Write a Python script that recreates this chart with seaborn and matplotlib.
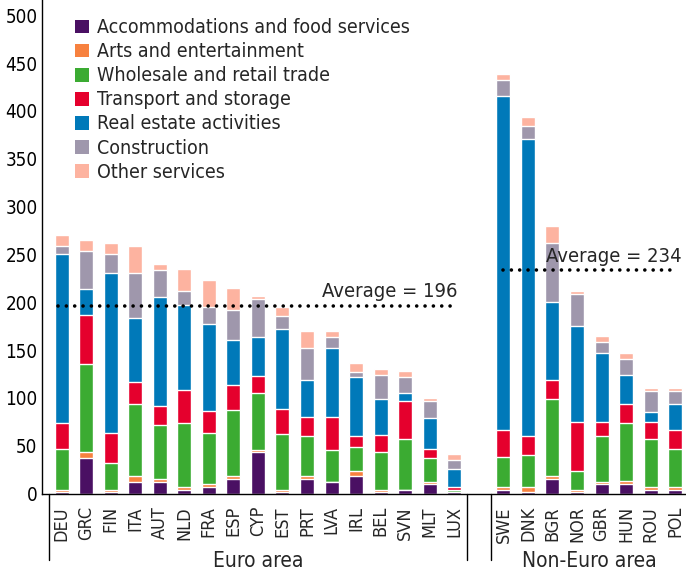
import numpy as np
import pandas as pd
import seaborn as sns
import matplotlib.pyplot as plt
from matplotlib.patches import Patch
import matplotlib.transforms as mtransforms

# data (segment heights, bottom to top)
euro = ["DEU", "GRC", "FIN", "ITA", "AUT", "NLD", "FRA", "ESP", "CYP",
        "EST", "PRT", "LVA", "IRL", "BEL", "SVN", "MLT", "LUX"]
non_euro = ["SWE", "DNK", "BGR", "NOR", "GBR", "HUN", "ROU", "POL"]

sectors = ["Accommodations and food services", "Arts and entertainment",
           "Wholesale and retail trade", "Transport and storage",
           "Real estate activities", "Construction", "Other services"]
colors = ["#4a1063", "#f7813f", "#3bab32", "#e5002d", "#0079b9", "#9f97ac", "#fdb3a0"]

accom = [1.5, 37, 1.4, 11.9, 11.9, 3.5, 6.6, 15, 43.3, 1.4, 15, 11.9, 18.1, 1.4, 3.5, 9.8, 1.4,
         3.5, 1.4, 15, 1.4, 9.8, 9.8, 3.5, 3.5]
arts = [2, 6.3, 2.1, 6.2, 3.1, 3.1, 3.2, 3.1, 2.1, 2.1, 3.1, 0, 5.3, 2.1, 0, 2.1, 0,
        3.1, 5.2, 3.1, 2.1, 2.1, 3.1, 3.1, 3.1]
wholesale = [43, 92.1, 28.3, 75.4, 56.5, 67, 53.4, 69.1, 59.6, 58.6, 41.9, 33.5, 25.1, 39.8, 53.4, 25.1, 2.1,
             31.4, 33.5, 80.6, 19.9, 48.1, 60.7, 50.3, 39.8]
transport = [27, 51.3, 31.4, 23.4, 20.3, 34.9, 23, 26.2, 17.8, 26.2, 19.9, 34.5, 11.5, 17.8, 39.7, 9.4, 3.1,
             28.3, 19.9, 19.9, 51.3, 14.7, 19.9, 17.8, 19.9]
real_estate = [177, 27.2, 167.4, 66.6, 113.7, 88.6, 91.1, 47.1, 40.8, 83.7, 38.7, 72.2, 61.8, 37.6, 8.4, 32.5, 18.9,
               349.6, 310.9, 81.7, 100.5, 72.2, 30.4, 10.4, 27.2]
construction = [8.5, 39.8, 19.9, 47.1, 28.3, 14.7, 18.1, 31.4, 39.8, 13.6, 33.5, 11.5, 5.2, 25.2, 16.8, 17.7, 9.4,
                16.8, 13.6, 61.7, 33.5, 11.5, 16.7, 22, 13.6]
other = [11.5, 11.5, 11.5, 28.3, 6.2, 23, 27.9, 23, 3.2, 9.4, 17.8, 6.3, 9.4, 6.2, 6.3, 3.2, 6.3,
         6.2, 9.4, 17.8, 3.1, 6.3, 6.3, 3.2, 3.2]

avg_euro = 196
avg_non_euro = 234

# build table with cumulative tops
countries = euro + non_euro
df = pd.DataFrame({"country": countries})
for name, vals in zip(sectors, [accom, arts, wholesale, transport, real_estate, construction, other]):
    df[name] = vals
cum = df[sectors].cumsum(axis=1)
cum["country"] = df["country"]
long = cum.melt(id_vars="country", var_name="sector", value_name="top")

order = euro + [" "] + non_euro

sns.set_style("white")
plt.rcParams["font.family"] = ["DejaVu Sans"]
plt.rcParams["font.stretch"] = "condensed"

fig = plt.figure(figsize=(6.86, 5.76), dpi=100)
ax = fig.add_axes([0.0608, 0.1432, 0.9392, 0.8568])

# overlay cumulative bars from top layer down
for name, col in list(zip(sectors, colors))[::-1]:
    sns.barplot(data=long[long.sector == name], x="country", y="top", order=order,
                color=col, saturation=1, width=0.57, ax=ax, errorbar=None)

ax.set_xlim(-0.81, 25.44)
ax.set_ylim(0, 516)
ax.set_xlabel("")
ax.set_ylabel("")
ax.set_yticks(np.arange(0, 501, 50))
ax.tick_params(axis="y", direction="in", length=4.5, width=1, pad=3, labelsize=13.5, colors="black")
ax.set_xticks(range(len(order)))
ax.set_xticklabels(order, rotation=90)
ax.tick_params(axis="x", which="major", length=0, pad=9, labelsize=13)
ax.set_xticks(np.arange(-0.5, 25, 1), minor=True)
ax.tick_params(axis="x", which="minor", direction="in", length=4.5, width=1, color="black")
for s in ["top", "right"]:
    ax.spines[s].set_visible(False)
for s in ["left", "bottom"]:
    ax.spines[s].set_color("black")
    ax.spines[s].set_linewidth(1)

# average lines
ax.hlines(avg_euro, -0.15, 16.05, colors="black", linewidth=2.6, linestyles=(0, (0.01, 2.3)))
ax.hlines(avg_non_euro, 18, 25.05, colors="black", linewidth=2.6, linestyles=(0, (0.01, 2.3)))
for ln in ax.collections[-2:]:
    ln.set_capstyle("round")
ax.text(16.12, 205, "Average = 196", ha="right", va="baseline", fontsize=14.5)
ax.text(25.27, 242, "Average = 234", ha="right", va="baseline", fontsize=14.5)

# group separators and labels
trans = mtransforms.blended_transform_factory(ax.transData, ax.transAxes)
for xs in [-0.5, 16.5, 17.5]:
    ax.plot([xs, xs], [0, -0.135], color="black", linewidth=1, transform=trans, clip_on=False)
ax.text(8, -0.137, "Euro area", transform=trans, ha="center", va="center", fontsize=15)
ax.text(21.5, -0.137, "Non-Euro area", transform=trans, ha="center", va="center", fontsize=15)

handles = [Patch(facecolor=c, edgecolor="none") for c in colors]
ax.legend(handles, sectors, loc="upper left", bbox_to_anchor=(0.052, 0.963), frameon=False,
          fontsize=14, handlelength=0.72, handleheight=0.72, handletextpad=0.38,
          labelspacing=0.26, borderaxespad=0, borderpad=0)

fig.savefig("out.png", dpi=100)
